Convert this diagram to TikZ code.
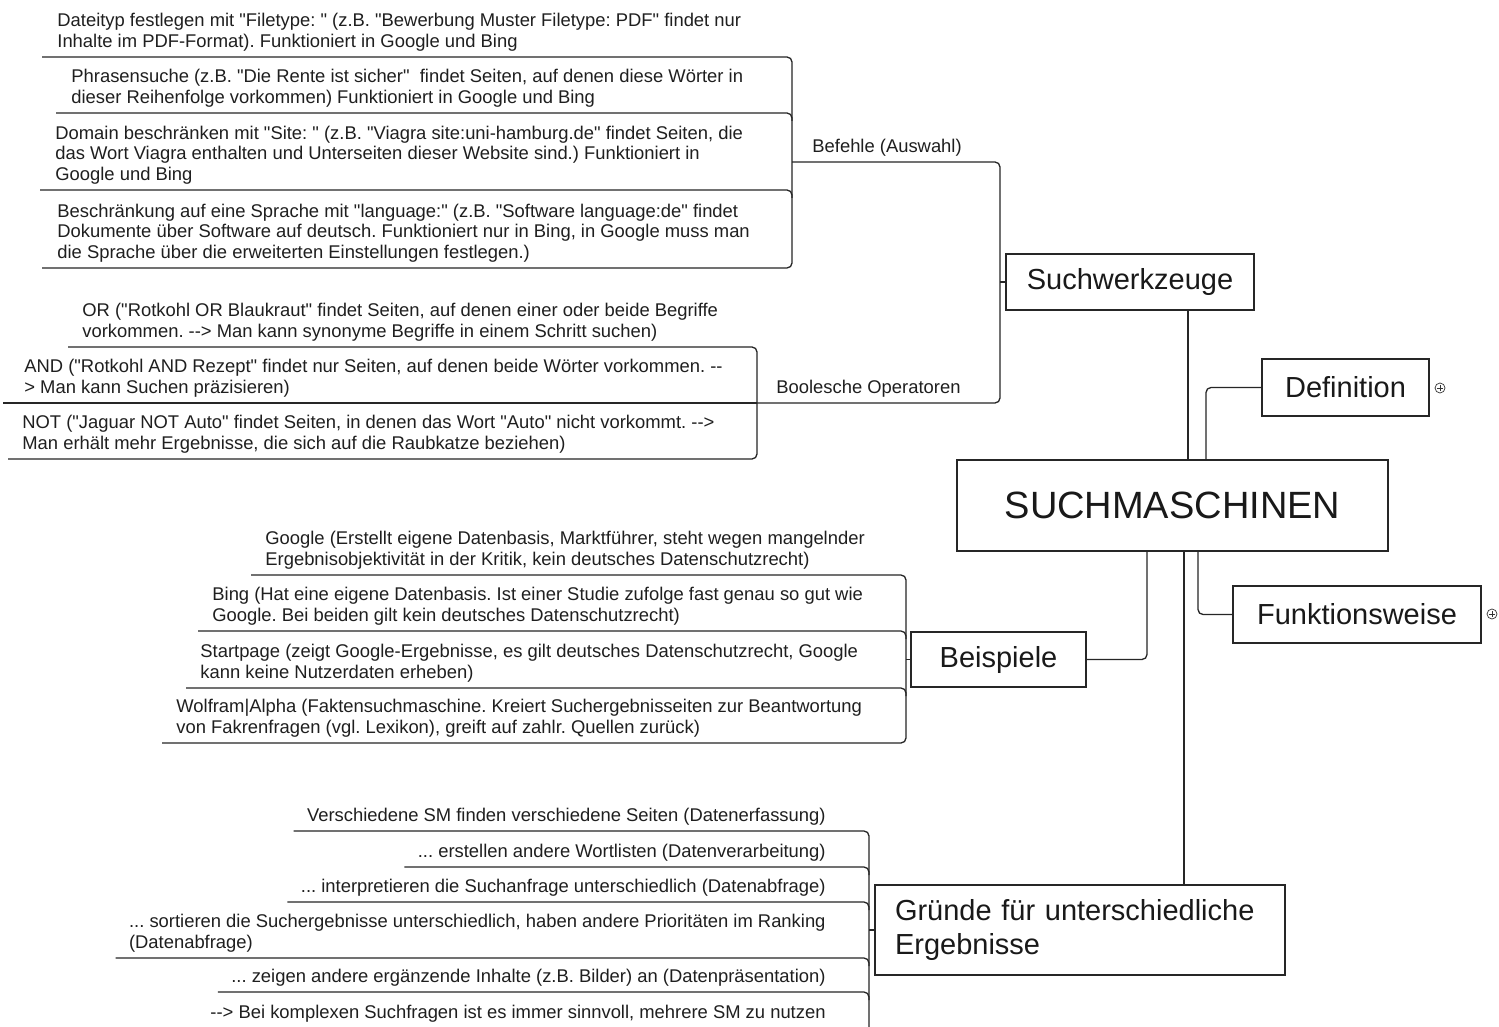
\documentclass[tikz,border=0pt]{standalone}
\usepackage{fontspec}
\setmainfont{Liberation Sans}[Ligatures=TeXOff]
\usetikzlibrary{calc}
\newcommand\dd{-\kern0pt-}
\begin{document}
\frenchspacing
\begin{tikzpicture}[x=0.5pt,y=-0.5pt,
  conn/.style={line width=0.65pt, draw=black!85, rounded corners=2.5pt},
  leaf/.style={inner sep=0pt, align=left, font=\fontsize{9.2}{10.25}\selectfont, text=black!88},
  topic/.style={draw=black!85, line width=0.65pt, inner sep=0pt, text=black!90, font=\fontsize{14.5}{17}\selectfont},
  expander/.style={circle, draw=black!80, line width=0.35pt, minimum size=5pt, inner sep=0pt,
    path picture={\draw[line width=0.35pt] ($(path picture bounding box.center)+(-3,0)$) -- ($(path picture bounding box.center)+(3,0)$)
      ($(path picture bounding box.center)+(0,-3)$) -- ($(path picture bounding box.center)+(0,3)$);}}]
\useasboundingbox (0,0) rectangle (1499,1027);
\clip (0,0) rectangle (1499,1027);
\fill[white] (0,0) rectangle (1499,1027);

% main topics
\node[topic, minimum width=215.5pt, minimum height=45.5pt, font=\fontsize{19}{22}\selectfont] (sm) at (1172.5,505.5) {SUCHMASCHINEN};
\node[topic, minimum width=124pt, minimum height=28pt] (sw) at (1130,282) {Suchwerkzeuge};
\node[topic, minimum width=83.5pt, minimum height=28.5pt] (def) at (1345.5,387.5) {Definition};
\node[topic, minimum width=124pt, minimum height=28.5pt] (fkt) at (1357,614.5) {Funktionsweise};
\node[topic, minimum width=87.5pt, minimum height=27.5pt] (bsp) at (998.5,659.5) {Beispiele};
\node[topic, minimum height=45pt, text width=185pt, inner xsep=10pt, align=left] (gr) at (1080,930) {Gründe für unterschiedliche\\Ergebnisse};
\node[expander] (defx) at (1440,388) {};
\node[expander] (fktx) at (1492,614) {};

% main connectors
\draw[conn] (1188,0 |- sw.south) -- (1188,0 |- sm.north);
\draw[conn] (1206,0 |- sm.north) |- (def.west);
\draw[conn] (1147,0 |- sm.south) |- (bsp.east);
\draw[conn] (1198,0 |- sm.south) |- (fkt.west);
\draw[conn] (1184,0 |- sm.south) -- (1184,0 |- gr.north);

% Suchwerkzeuge subtopics
\node[leaf, anchor=south west] (bef) at (812,159) {Befehle (Auswahl)\strut};
\node[leaf, anchor=south west] (boo) at (776,400) {Boolesche Operatoren\strut};
\coordinate (bB) at (792,162);
\coordinate (bO) at (757,403);
\coordinate (sj) at (1000,0 |- sw.west);
\draw[conn] (sj) -- (sw.west);
\draw[conn] (bB) -| (sj) |- (bO);

% Befehle leaves
\node[leaf, anchor=south west] (b1) at (57,54) {Dateityp festlegen mit "Filetype: " (z.B. "Bewerbung Muster Filetype: PDF" findet nur\\Inhalte im PDF-Format). Funktioniert in Google und Bing\strut};
\node[leaf, anchor=south west] (b2) at (71,110) {Phrasensuche (z.B. "Die Rente ist sicher"\ \ findet Seiten, auf denen diese Wörter in\\dieser Reihenfolge vorkommen) Funktioniert in Google und Bing\strut};
\node[leaf, anchor=south west] (b3) at (55,187) {Domain beschränken mit "Site: " (z.B. "Viagra site:uni-hamburg.de" findet Seiten, die\\das Wort Viagra enthalten und Unterseiten dieser Website sind.) Funktioniert in\\Google und Bing\strut};
\node[leaf, anchor=south west] (b4) at (57,265) {Beschränkung auf eine Sprache mit "language:" (z.B. "Software language:de" findet\\Dokumente über Software auf deutsch. Funktioniert nur in Bing, in Google muss man\\die Sprache über die erweiterten Einstellungen festlegen.)\strut};
\foreach \n in {b1,b2,b3,b4} \coordinate (\n u) at ([shift={(-15,3)}]\n.south west);
\draw[conn] (b1u) -- (b1u -| bB) -- (b4u -| bB) -- (b4u);
\draw[conn] (b2u) -- (b2u -| bB) -- ($(b2u -| bB)+(0,8)$);
\draw[conn] (b3u) -- (b3u -| bB) -- ($(b3u -| bB)+(0,8)$);

% Boolesche leaves
\node[leaf, anchor=south west] (o1) at (82,344) {OR ("Rotkohl OR Blaukraut" findet Seiten, auf denen einer oder beide Begriffe\\vorkommen. \dd> Man kann synonyme Begriffe in einem Schritt suchen)\strut};
\node[leaf, anchor=south west] (o2) at (24,400) {AND ("Rotkohl AND Rezept" findet nur Seiten, auf denen beide Wörter vorkommen. \dd\\> Man kann Suchen präzisieren)\strut};
\node[leaf, anchor=south west] (o3) at (22,456) {NOT ("Jaguar NOT Auto" findet Seiten, in denen das Wort "Auto" nicht vorkommt. \dd>\\Man erhält mehr Ergebnisse, die sich auf die Raubkatze beziehen)\strut};
\coordinate (o1u) at ([shift={(-14,3)}]o1.south west);
\coordinate (o2u) at ([shift={(-21,3)}]o2.south west);
\coordinate (o3u) at ([shift={(-14,3)}]o3.south west);
\draw[conn] (o1u) -- (o1u -| bO) -- (o3u -| bO) -- (o3u);
\draw[conn] (o2u) -- (bO);

% Beispiele leaves
\coordinate (bE) at (906,0 |- bsp.west);
\draw[conn] (bE) -- (bsp.west);
\node[leaf, anchor=south west] (e1) at (265,572) {Google (Erstellt eigene Datenbasis, Marktführer, steht wegen mangelnder\\Ergebnisobjektivität in der Kritik, kein deutsches Datenschutzrecht)\strut};
\node[leaf, anchor=south west] (e2) at (212,628) {Bing (Hat eine eigene Datenbasis. Ist einer Studie zufolge fast genau so gut wie\\Google. Bei beiden gilt kein deutsches Datenschutzrecht)\strut};
\node[leaf, anchor=south west] (e3) at (200,685) {Startpage (zeigt Google-Ergebnisse, es gilt deutsches Datenschutzrecht, Google\\kann keine Nutzerdaten erheben)\strut};
\node[leaf, anchor=south west] (e4) at (176,740) {Wolfram|Alpha (Faktensuchmaschine. Kreiert Suchergebnisseiten zur Beantwortung\\von Fakrenfragen (vgl. Lexikon), greift auf zahlr. Quellen zurück)\strut};
\foreach \n in {e1,e2,e3,e4} \coordinate (\n u) at ([shift={(-14,3)}]\n.south west);
\draw[conn] (e1u) -- (e1u -| bE) -- (e4u -| bE) -- (e4u);
\draw[conn] (e2u) -- (e2u -| bE) -- ($(e2u -| bE)+(0,8)$);
\draw[conn] (e3u) -- (e3u -| bE) -- ($(e3u -| bE)+(0,8)$);

% Gruende leaves
\coordinate (bG) at (869,0 |- gr.west);
\draw[conn] (bG) -- (gr.west);
\node[leaf, anchor=south east] (g1) at (826,828) {Verschiedene SM finden verschiedene Seiten (Datenerfassung)\strut};
\node[leaf, anchor=south east] (g2) at (826,864) {... erstellen andere Wortlisten (Datenverarbeitung)\strut};
\node[leaf, anchor=south east] (g3) at (826,899) {... interpretieren die Suchanfrage unterschiedlich (Datenabfrage)\strut};
\node[leaf, anchor=south east] (g4) at (826,955) {... sortieren die Suchergebnisse unterschiedlich, haben andere Prioritäten im Ranking\\(Datenabfrage)\strut};
\node[leaf, anchor=south east] (g5) at (826,989) {... zeigen andere ergänzende Inhalte (z.B. Bilder) an (Datenpräsentation)\strut};
\node[leaf, anchor=south east] (g6) at (826,1025) {\dd> Bei komplexen Suchfragen ist es immer sinnvoll, mehrere SM zu nutzen\strut};
\foreach \n in {g1,g2,g3,g4,g5,g6} \coordinate (\n u) at ([shift={(-13,3)}]\n.south west);
\draw[conn] (g1u) -- (g1u -| bG) -- ($(g6u -| bG)+(0,6)$);
\foreach \n in {g2,g3,g4,g5} \draw[conn] (\n u) -- (\n u -| bG) -- ($(\n u -| bG)+(0,8)$);
\draw[conn] (g6u) -- (g6u -| bG);
\end{tikzpicture}
\end{document}
